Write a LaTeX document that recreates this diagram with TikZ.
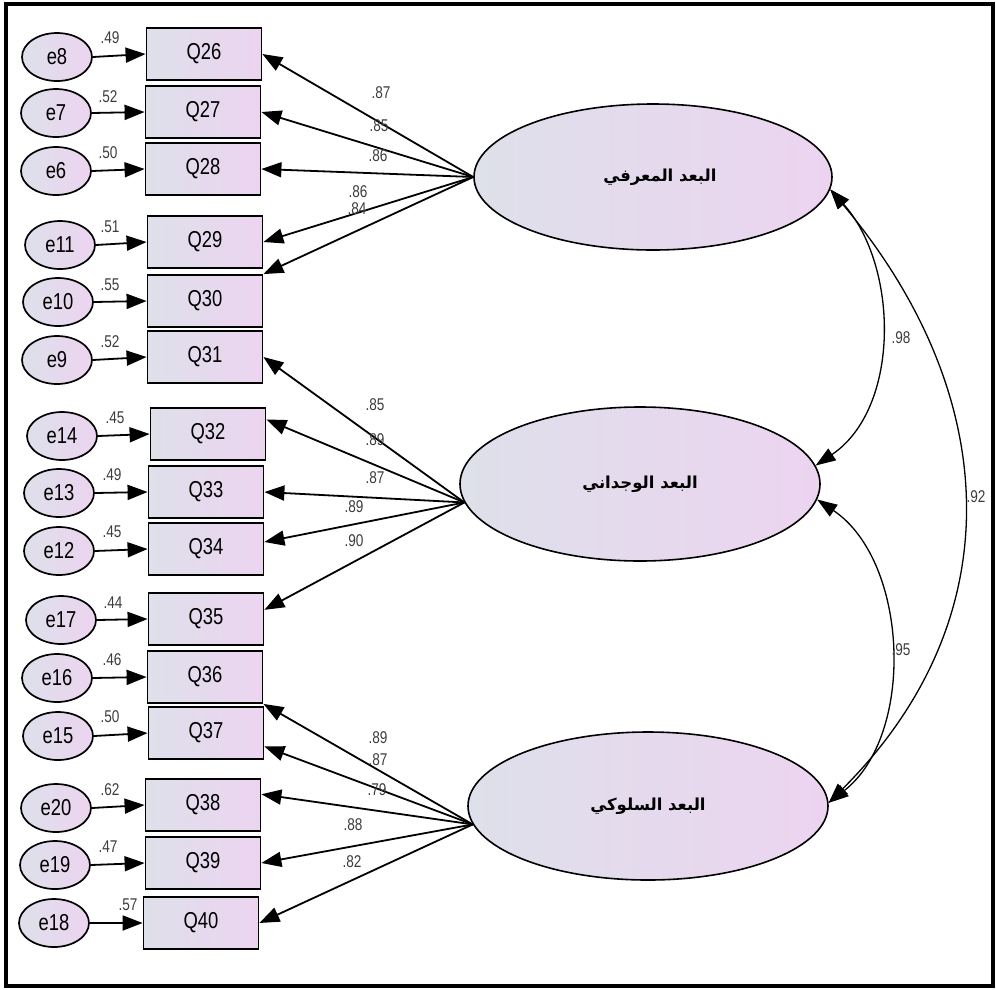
\documentclass[tikz,border=0pt]{standalone}
\usepackage{fontspec}
\setmainfont[FakeStretch=0.8]{Liberation Sans}
\newfontfamily\arabicfont[Script=Arabic]{DejaVu Sans}
\TeXXeTstate=1
\usetikzlibrary{arrows.meta,calc,shapes.geometric}
\definecolor{cL}{RGB}{222,224,234}
\definecolor{cR}{RGB}{236,212,240}
\definecolor{lab}{RGB}{60,60,60}
\begin{document}
\begin{tikzpicture}[x=1pt,y=1pt,
 qbox/.style={draw, line width=1.8pt, left color=cL, right color=cR, minimum width=115pt, minimum height=52pt, inner sep=0pt, font=\fontsize{23}{25}\selectfont},
 err/.style={ellipse, draw, line width=1.7pt, left color=cL, right color=cR, minimum width=70pt, minimum height=48pt, inner sep=0pt, font=\fontsize{23}{25}\selectfont},
 lat/.style={ellipse, draw, line width=1.6pt, left color=cL, right color=cR, inner sep=0pt, font=\fontsize{16.5}{19}\selectfont\arabicfont\bfseries},
 load/.style={-{Triangle[length=20pt,width=15pt]}, line width=1.8pt},
 cov/.style={{Triangle[length=20pt,width=14pt]}-{Triangle[length=20pt,width=14pt]}, line width=1.3pt},
 lbl/.style={text=lab, font=\fontsize{17}{19}\selectfont, inner sep=0pt}
]
\useasboundingbox (0,0) rectangle (996,-989);
\draw[line width=4pt] (6,-4) rectangle (993,-986);

% latent factors
\node[lat, minimum width=358pt, minimum height=146pt] (F1) at (653,-177) {\raisebox{4pt}{\hspace*{14pt}\beginR البعد المعرفي\endR}};
\node[lat, minimum width=360pt, minimum height=154pt] (F2) at (640,-484) {\beginR البعد الوجداني\endR};
\node[lat, minimum width=360pt, minimum height=148pt] (F3) at (648,-806) {\beginR البعد السلوكي\endR};

% observed boxes
\node[qbox] (Q26) at (204,-54) {Q26};
\node[qbox] (Q27) at (203,-112) {Q27};
\node[qbox] (Q28) at (203,-169) {Q28};
\node[qbox] (Q29) at (205,-242) {Q29};
\node[qbox] (Q30) at (205,-301) {Q30};
\node[qbox] (Q31) at (205,-357) {Q31};
\node[qbox] (Q32) at (208,-434) {Q32};
\node[qbox] (Q33) at (206,-492) {Q33};
\node[qbox] (Q34) at (206,-549) {Q34};
\node[qbox] (Q35) at (206,-619) {Q35};
\node[qbox] (Q36) at (205,-677) {Q36};
\node[qbox] (Q37) at (206,-733) {Q37};
\node[qbox] (Q38) at (203,-805) {Q38};
\node[qbox] (Q39) at (203,-863) {Q39};
\node[qbox] (Q40) at (201,-923) {Q40};

% error terms
\node[err] (e8) at (57,-57) {e8};
\node[err] (e7) at (56,-113) {e7};
\node[err] (e6) at (56,-171) {e6};
\node[err] (e11) at (60,-245) {e11};
\node[err] (e10) at (58,-302) {e10};
\node[err] (e9) at (57,-360) {e9};
\node[err] (e14) at (62,-436) {e14};
\node[err] (e13) at (59,-493) {e13};
\node[err] (e12) at (59,-551) {e12};
\node[err] (e17) at (61,-620) {e17};
\node[err] (e16) at (57,-678) {e16};
\node[err] (e15) at (58,-736) {e15};
\node[err] (e20) at (56,-808) {e20};
\node[err] (e19) at (55,-865) {e19};
\node[err] (e18) at (54,-923) {e18};

% error arrows
\foreach \e/\q in {e8/Q26,e7/Q27,e6/Q28,e11/Q29,e10/Q30,e9/Q31,e14/Q32,e13/Q33,e12/Q34,e17/Q35,e16/Q36,e15/Q37,e20/Q38,e19/Q39,e18/Q40}
  \draw[load] (\e.east) -- (\q.west);

% error labels
\node[lbl] (l8) at (110,-38) {.49};
\node[lbl] (l7) at (108,-97) {.52};
\node[lbl] (l6) at (108,-153) {.50};
\node[lbl] (l11) at (110,-227) {.51};
\node[lbl] (l10) at (110,-285) {.55};
\node[lbl] (l9) at (110,-342) {.52};
\node[lbl] (l14) at (115,-418) {.45};
\node[lbl] (l13) at (112,-475) {.49};
\node[lbl] (l12) at (112,-532) {.45};
\node[lbl] (l17) at (113,-603) {.44};
\node[lbl] (l16) at (112,-660) {.46};
\node[lbl] (l15) at (110,-717) {.50};
\node[lbl] (l20) at (110,-790) {.62};
\node[lbl] (l19) at (108,-847) {.47};
\node[lbl] (l18) at (128,-905) {.57};

% loadings
\draw[load] (F1.west) -- (Q26.east);
\draw[load] (F1.west) -- (Q27.east);
\draw[load] (F1.west) -- (Q28.east);
\draw[load] (F1.west) -- (Q29.east);
\draw[load] (F1.west) -- (Q30.north east);
\draw[load] (F2.186) -- (Q31.east);
\draw[load] (F2.186) -- ($(Q32.north east)!0.23!(Q32.south east)$);
\draw[load] (F2.186) -- (Q33.east);
\draw[load] (F2.186) -- ($(Q34.north east)!0.37!(Q34.south east)$);
\draw[load] (F2.186) -- ($(Q35.north east)!0.33!(Q35.south east)$);
\draw[load] (F3.186) -- (Q36.south east);
\draw[load] (F3.186) -- ($(Q37.north east)!0.75!(Q37.south east)$);
\draw[load] (F3.186) -- ($(Q38.north east)!0.3!(Q38.south east)$);
\draw[load] (F3.186) -- (Q39.east);
\draw[load] (F3.186) -- (Q40.east);

% loading labels
\node[lbl] (a26) at (381,-93) {.87};
\node[lbl] (a27) at (379,-126) {.85};
\node[lbl] (a28) at (378,-156) {.86};
\node[lbl] (a29) at (358,-192) {.86};
\node[lbl] (a30) at (357,-209) {.84};
\node[lbl] (a31) at (375,-405) {.85};
\node[lbl] (a32) at (375,-440) {.89};
\node[lbl] (a33) at (375,-478) {.87};
\node[lbl] (a34) at (354,-507) {.89};
\node[lbl] (a35) at (354,-541) {.90};
\node[lbl] (a36) at (378,-738) {.89};
\node[lbl] (a37) at (378,-760) {.87};
\node[lbl] (a38) at (377,-790) {.79};
\node[lbl] (a39) at (353,-825) {.88};
\node[lbl] (a40) at (352,-862) {.82};

% covariances
\draw[cov] (F1.-4) to[out=-48,in=34,looseness=0.95] (F2.6);
\draw[cov] (F2.-5) to[out=-34,in=38,looseness=0.93] (F3.1);
\draw[cov] (F1.-4) to[out=-50,in=45,looseness=1.1] (F3.1);
\node[lbl] (c12) at (901,-338) {.98};
\node[lbl] (c23) at (901,-650) {.95};
\node[lbl] (c13) at (976,-497) {.92};
\end{tikzpicture}
\end{document}
